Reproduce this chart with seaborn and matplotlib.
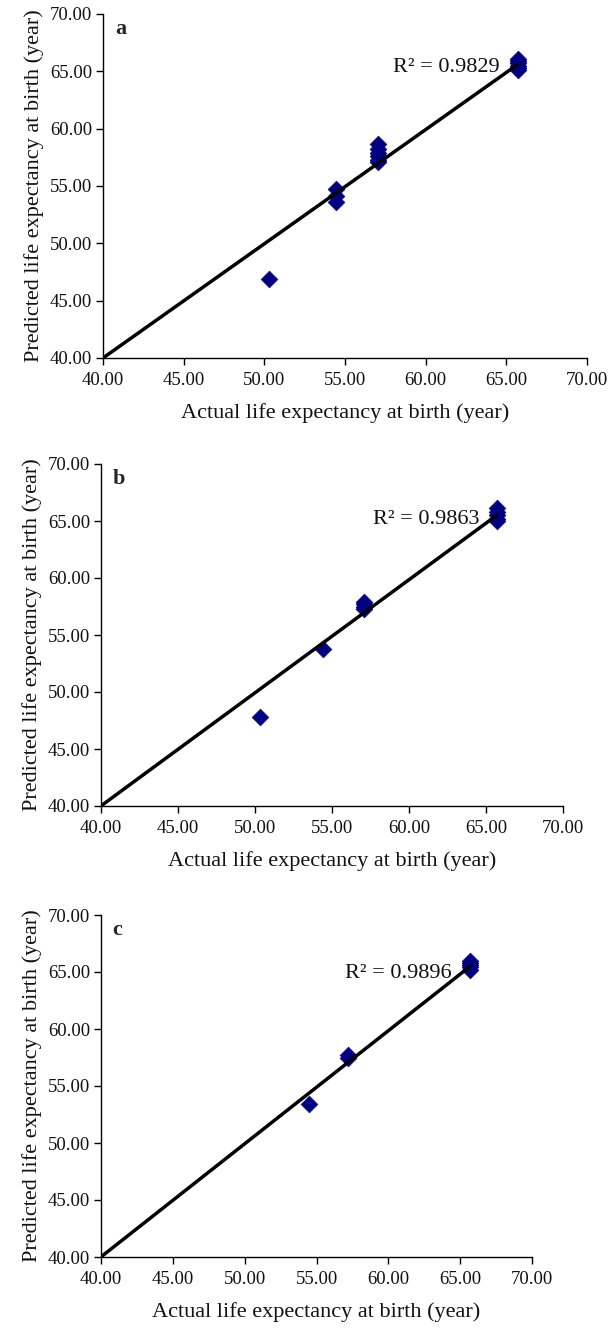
import matplotlib
matplotlib.use("Agg")
import matplotlib.pyplot as plt
import seaborn as sns
import pandas as pd

# ---- data ----
a_actual = [50.3, 54.45, 54.45, 54.45, 57.05, 57.05, 57.05, 57.05, 57.05, 57.05,
            65.7, 65.7, 65.7, 65.7, 65.7, 65.7]
a_pred = [46.85, 54.75, 54.1, 53.6, 58.7, 58.2, 57.9, 57.6, 57.3, 57.1,
          66.1, 65.9, 65.7, 65.5, 65.3, 65.1]

b_actual = [50.3, 54.4, 57.1, 57.1, 57.1, 57.1, 65.7, 65.7, 65.7, 65.7, 65.7]
b_pred = [47.8, 53.8, 57.9, 57.7, 57.45, 57.25, 66.1, 65.8, 65.5, 65.2, 65.0]

c_actual = [54.5, 57.2, 57.2, 65.7, 65.7, 65.7, 65.7, 65.7]
c_pred = [53.4, 57.7, 57.5, 66.0, 65.8, 65.6, 65.4, 65.2]

panel_labels = ["a", "b", "c"]
r2_values = ["0.9829", "0.9863", "0.9896"]
trend_slope = [0.996, 0.992, 0.992]
trend_intercept = [0.16, 0.33, 0.33]
trend_x_range = [40.0, 65.7]

ticks = [40, 45, 50, 55, 60, 65, 70]
tick_labels = ["40.00", "45.00", "50.00", "55.00", "60.00", "65.00", "70.00"]
xlabel = "Actual life expectancy at birth (year)"
ylabel = "Predicted life expectancy at birth (year)"

sns.set_theme(style="ticks")
plt.rcParams["font.family"] = ["Liberation Serif", "DejaVu Serif"]

W, H = 612, 1328
fig = plt.figure(figsize=(W / 100, H / 100), dpi=100)

# axes boxes in pixels: (left, top, right, bottom)
boxes = [(103, 14, 587, 358), (101, 464, 563, 806), (101, 915, 532, 1257)]

datasets = [(a_actual, a_pred), (b_actual, b_pred), (c_actual, c_pred)]
r2_pos = [(64.6, 65.3), (64.6, 65.1), (64.4, 64.9)]

for i, ((xs, ys), (l, t, r, b)) in enumerate(zip(datasets, boxes)):
    ax = fig.add_axes([l / W, 1 - b / H, (r - l) / W, (b - t) / H])
    df = pd.DataFrame({"actual": xs, "pred": ys})
    line_df = pd.DataFrame({"x": trend_x_range,
                            "y": [trend_slope[i] * v + trend_intercept[i] for v in trend_x_range]})
    sns.lineplot(data=line_df, x="x", y="y", ax=ax, color="black", linewidth=2.5, zorder=3)
    sns.scatterplot(data=df, x="actual", y="pred", ax=ax, marker="D", s=72,
                    color="#000080", edgecolor="#000080", linewidth=0.5, zorder=2)
    ax.set_xlim(40, 70)
    ax.set_ylim(40, 70)
    ax.set_xticks(ticks)
    ax.set_xticklabels(tick_labels)
    ax.set_yticks(ticks)
    ax.set_yticklabels(tick_labels)
    ax.tick_params(axis="both", labelsize=13.5, length=5, width=1, color="black",
                   labelcolor="#111111", direction="out", pad=3)
    ax.tick_params(axis="x", pad=5)
    for s in ["top", "right"]:
        ax.spines[s].set_visible(False)
    for s in ["left", "bottom"]:
        ax.spines[s].set_linewidth(1)
        ax.spines[s].set_color("black")
    ax.set_xlabel(xlabel, fontsize=16, labelpad=10, color="#111111")
    ax.set_ylabel(ylabel, fontsize=16, labelpad=4, color="#111111")
    ax.text(0.025, 0.985, panel_labels[i], transform=ax.transAxes, fontsize=16,
            fontweight="bold", va="top", ha="left")
    ax.text(r2_pos[i][0], r2_pos[i][1], "R\u00b2 = " + r2_values[i], fontsize=16,
            ha="right", va="center", color="#111111")

fig.savefig("out.png", dpi=100, facecolor="white")
